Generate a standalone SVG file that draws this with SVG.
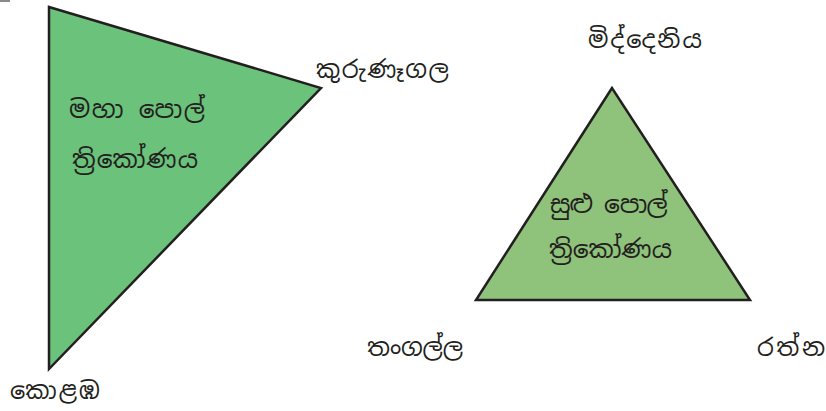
<svg xmlns="http://www.w3.org/2000/svg" width="826" height="411" viewBox="0 0 826 411">
<style>
.tri{stroke:#231F20;stroke-width:2.5;stroke-linejoin:miter}
.big{fill:#6BC27A}
.small{fill:#8FC27A}
text{font-family:"Noto Sans Sinhala","Noto Serif Sinhala","Iskoola Pota","Noto Sans","DejaVu Sans",sans-serif;font-size:25px;fill:#231F20}
.lbl{font-size:24px}
</style>
<rect x="0" y="0" width="10" height="2" fill="#8a8a8a"/>
<g id="big-triangle">
<polygon class="tri big" points="49,7 321,88 49,369"/>
<text x="69" y="118" textLength="136">මහා පොල්</text>
<text x="72" y="168" textLength="126">ත්‍රිකෝණය</text>
</g>
<g id="small-triangle">
<polygon class="tri small" points="612,88 476,300 750,300"/>
<text x="549" y="213" textLength="118">සුළු පොල්</text>
<text x="549" y="258" textLength="123">ත්‍රිකෝණය</text>
</g>
<g id="kurunegala"><text class="lbl" x="316" y="78" textLength="133">කුරුණෑගල</text></g>
<g id="colombo"><text class="lbl" x="10" y="399" textLength="90">කොළඹ</text></g>
<g id="middeniya"><text class="lbl" x="588" y="48" textLength="114">මිද්දෙනිය</text></g>
<g id="tangalle"><text class="lbl" x="367" y="356" textLength="96">තංගල්ල</text></g>
<g id="ratna"><text class="lbl" x="757" y="356" textLength="68">රත්න</text></g>
<g id="connectors"/>
</svg>
